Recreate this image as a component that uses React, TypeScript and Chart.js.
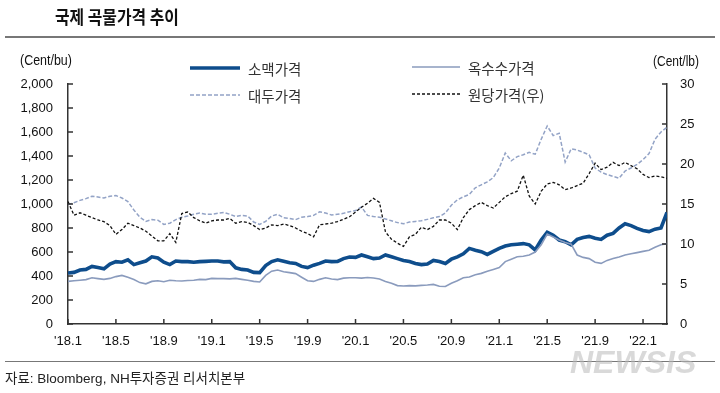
import React, { useEffect, useRef } from 'react';
import { Chart, registerables } from 'chart.js';

Chart.register(...registerables);

// Tick labels for the x axis (every 4 months starting Jan 2018)
const X_TICK_LABELS = ["'18.1", "'18.5", "'18.9", "'19.1", "'19.5", "'19.9", "'20.1", "'20.5", "'20.9", "'21.1", "'21.5", "'21.9", "'22.1"];

// Semi-monthly observations, Jan 2018 .. Mar 2022 (101 points)
// 소맥가격 (Cent/bu)
const WHEAT = [
  425, 430, 450, 455, 480, 470, 460, 500, 520, 515,
  535, 495, 510, 525, 560, 550, 515, 495, 525, 520,
  520, 515, 520, 522, 525, 525, 518, 520, 468, 455,
  450, 430, 428, 487, 520, 535, 522, 510, 505, 480,
  470, 490, 505, 525, 520, 522, 545, 558, 555, 575,
  560, 545, 550, 575, 560, 545, 530, 520, 505, 495,
  500, 530, 520, 505, 540, 560, 585, 630, 615, 603,
  580, 605, 630, 650, 660, 665, 670, 660, 617, 700,
  765, 740, 700, 686, 660, 705, 720, 730, 715, 705,
  740, 755, 800, 835, 820, 797, 780, 770, 790, 800,
  930,
];
// 옥수수가격 (Cent/bu)
const CORN = [
  355, 360, 365, 370, 385, 378, 372, 380, 395, 405,
  390, 370, 345, 335, 355, 360, 352, 365, 360, 358,
  362, 365, 372, 370, 380, 378, 378, 376, 380, 372,
  365, 355, 350, 405, 440, 450, 436, 428, 420, 390,
  360, 355, 372, 385, 375, 370, 382, 386, 385, 382,
  388, 383, 375, 355, 340, 320, 317, 320, 318, 322,
  325, 330, 315, 312, 340, 360, 385, 392, 410, 422,
  440, 455, 470, 520, 540, 560, 565, 575, 600, 660,
  750, 725, 700, 680, 665, 575, 555, 545, 515, 505,
  530, 545, 558, 575, 585, 595, 605, 615, 640, 660,
  670,
];
// 대두가격 (Cent/bu)
const SOYBEAN = [
  995, 1010, 1030, 1045, 1065, 1058, 1050, 1065, 1070, 1050,
  1020, 950, 890, 855, 870, 865, 830, 840, 870, 890,
  900, 915, 925, 915, 915, 922, 930, 915, 895, 905,
  900, 850, 830, 855, 900, 915, 885, 880, 870, 890,
  895, 905, 935, 925, 908, 915, 922, 936, 945, 975,
  905, 895, 890, 875, 860, 845, 835, 850, 855, 860,
  872, 885, 895, 925, 990, 1035, 1060, 1080, 1135, 1160,
  1185, 1220, 1300, 1425, 1360, 1395, 1410, 1430, 1415, 1540,
  1650, 1570, 1590, 1350, 1460, 1450, 1430, 1410, 1300, 1265,
  1245, 1230, 1215, 1275, 1300, 1330, 1370, 1420, 1540, 1600,
  1640,
];
// 원당가격(우) (Cent/lb)
const SUGAR = [
  15.3, 13.6, 13.9, 13.6, 13.3, 13.0, 12.8, 12.3, 11.2, 11.8,
  12.6, 12.3, 12.0, 11.6, 11.0, 10.4, 10.4, 11.3, 10.2, 13.8,
  14.0, 13.3, 12.9, 12.6, 12.9, 13.0, 13.0, 13.2, 12.6, 12.8,
  12.7, 12.3, 11.8, 12.0, 12.4, 12.3, 12.5, 12.3, 12.0, 11.6,
  11.3, 10.9, 12.4, 12.5, 12.6, 12.8, 13.1, 13.4, 14.0, 14.6,
  15.1, 15.7, 15.2, 11.5, 10.6, 10.1, 9.7, 10.9, 11.2, 12.1,
  11.8, 12.2, 13.0, 13.0, 12.6, 11.8, 13.3, 14.3, 14.8, 15.2,
  14.8, 14.5, 15.2, 15.9, 16.3, 16.6, 18.6, 16.0, 15.0, 16.6,
  17.5, 17.7, 17.4, 16.8, 17.0, 17.3, 17.6, 18.8, 20.1, 19.3,
  19.6, 20.2, 19.8, 20.2, 19.8, 19.4, 18.7, 18.3, 18.5, 18.4,
  18.2,
];

// x position of each observation, in months since Jan 2018
const MONTH_POS = WHEAT.map((_, i) => i / 2);

const SANS = "'Liberation Sans', Arial, sans-serif";
const KR = "'Noto Sans CJK KR', 'Noto Sans', sans-serif";

const C_WHEAT = '#0e4d8c';
const C_CORN = '#8a9bbd';
const C_SOY = '#93a3c6';
const C_SUGAR = '#111111';

const toPts = (arr: number[]) => arr.map((v, i) => ({ x: MONTH_POS[i], y: v }));

const insideTicks = {
  id: 'insideTicks',
  afterDraw(chart: any) {
    const ctx = chart.ctx;
    const area = chart.chartArea;
    const sx = chart.scales.x;
    const sy = chart.scales.y;
    const sy2 = chart.scales.y2;
    ctx.save();
    ctx.strokeStyle = '#333';
    ctx.lineWidth = 1.5;
    ctx.beginPath();
    sx.ticks.forEach((_: any, i: number) => {
      const px = sx.getPixelForTick(i);
      ctx.moveTo(px, area.bottom);
      ctx.lineTo(px, area.bottom - 5);
    });
    sy.ticks.forEach((_: any, i: number) => {
      const py = sy.getPixelForTick(i);
      ctx.moveTo(area.left, py);
      ctx.lineTo(area.left + 5, py);
    });
    sy2.ticks.forEach((_: any, i: number) => {
      const py = sy2.getPixelForTick(i);
      ctx.moveTo(area.right, py);
      ctx.lineTo(area.right - 5, py);
    });
    ctx.stroke();
    ctx.restore();
  },
};

function Txt(props: { left: number; cy: number; size: number; family: string; weight?: number; sx?: number; color?: string; children: any; italic?: boolean }) {
  const lh = Math.round(props.size * 1.3);
  return (
    <div
      style={{
        position: 'absolute',
        left: props.left,
        top: props.cy - lh / 2,
        fontSize: props.size,
        lineHeight: lh + 'px',
        fontFamily: props.family,
        fontWeight: props.weight ?? 400,
        fontStyle: props.italic ? 'italic' : 'normal',
        color: props.color ?? '#222',
        whiteSpace: 'nowrap',
        transform: props.sx ? `scaleX(${props.sx})` : undefined,
        transformOrigin: 'left center',
      }}
    >
      {props.children}
    </div>
  );
}

export default function App() {
  const canvasRef = useRef<HTMLCanvasElement | null>(null);

  useEffect(() => {
    if (!canvasRef.current) return;
    const tickFont = { family: SANS, size: 13 };
    const chart = new Chart(canvasRef.current, {
      type: 'line',
      data: {
        datasets: [
          { label: '원당가격(우)', data: toPts(SUGAR), yAxisID: 'y2', borderColor: C_SUGAR, borderWidth: 1.3, borderDash: [3, 2], order: 0 },
          { label: '옥수수가격', data: toPts(CORN), yAxisID: 'y', borderColor: C_CORN, borderWidth: 1.6, order: 1 },
          { label: '소맥가격', data: toPts(WHEAT), yAxisID: 'y', borderColor: C_WHEAT, borderWidth: 3.6, order: 2 },
          { label: '대두가격', data: toPts(SOYBEAN), yAxisID: 'y', borderColor: C_SOY, borderWidth: 1.5, borderDash: [4, 2], order: 3 },
        ] as any,
      },
      options: {
        animation: false,
        responsive: true,
        maintainAspectRatio: false,
        elements: { point: { radius: 0 }, line: { tension: 0 } },
        layout: { padding: { top: 84, left: 0, right: 0, bottom: 0 } },
        plugins: { legend: { display: false }, tooltip: { enabled: false } },
        scales: {
          x: {
            type: 'linear',
            min: 0,
            max: 50,
            afterFit: (s: any) => { s.height = 69; },
            grid: { display: true, drawOnChartArea: false, drawTicks: false },
            border: { display: true, color: '#333', width: 1.5 },
            ticks: {
              stepSize: 4,
              autoSkip: false,
              maxRotation: 0,
              includeBounds: false,
              padding: 10,
              color: '#111',
              font: tickFont,
              callback: (v: any) => X_TICK_LABELS[Math.round(Number(v) / 4)] ?? '',
            },
          },
          y: {
            position: 'left',
            min: 0,
            max: 2000,
            afterFit: (s: any) => { s.width = 68; },
            grid: { display: true, drawOnChartArea: false, drawTicks: false },
            border: { display: true, color: '#333', width: 1.5 },
            ticks: {
              stepSize: 200,
              padding: 15,
              color: '#111',
              font: tickFont,
              callback: (v: any) => Number(v).toLocaleString('en-US'),
            },
          },
          y2: {
            position: 'right',
            min: 0,
            max: 30,
            afterFit: (s: any) => { s.width = 53; },
            grid: { display: true, drawOnChartArea: false, drawTicks: false },
            border: { display: true, color: '#333', width: 1.5 },
            ticks: {
              stepSize: 5,
              padding: 13,
              color: '#111',
              font: tickFont,
            },
          },
        },
      } as any,
      plugins: [insideTicks],
    });
    return () => chart.destroy();
  }, []);

  return (
    <div style={{ position: 'absolute', left: 0, top: 0, width: 720, height: 393, background: '#fff', overflow: 'hidden' }}>
      <div style={{ position: 'absolute', left: 0, top: 0, width: 720, height: 393 }}>
        <canvas ref={canvasRef} />
      </div>

      {/* Title and rules */}
      <Txt left={55} cy={16.5} size={18} family={KR} weight={700} sx={0.88} color="#111">국제 곡물가격 추이</Txt>
      <div style={{ position: 'absolute', left: 5, top: 36, width: 710, height: 1.5, background: '#777' }} />
      <div style={{ position: 'absolute', left: 5, top: 360.5, width: 710, height: 1.5, background: '#777' }} />

      {/* Axis titles */}
      <Txt left={20} cy={60} size={15} family={SANS} sx={0.83} color="#111">(Cent/bu)</Txt>
      <Txt left={653} cy={61} size={15} family={SANS} sx={0.8} color="#111">(Cent/lb)</Txt>

      {/* Legend */}
      <svg width={720} height={393} style={{ position: 'absolute', left: 0, top: 0, pointerEvents: 'none' }}>
        <line x1={190} y1={68} x2={240} y2={68} stroke={C_WHEAT} strokeWidth={3.5} />
        <line x1={190} y1={95} x2={240} y2={95} stroke={C_SOY} strokeWidth={1.5} strokeDasharray="4 2" />
        <line x1={412} y1={67} x2={460} y2={67} stroke={C_CORN} strokeWidth={1.5} />
        <line x1={412} y1={94} x2={460} y2={94} stroke={C_SUGAR} strokeWidth={1.5} strokeDasharray="3 2" />
      </svg>
      <Txt left={248} cy={68} size={14.5} family={KR} color="#333">소맥가격</Txt>
      <Txt left={248} cy={95} size={14.5} family={KR} color="#333">대두가격</Txt>
      <Txt left={468} cy={67} size={14.5} family={KR} color="#333">옥수수가격</Txt>
      <Txt left={468} cy={94} size={14.5} family={KR} color="#333">원당가격(우)</Txt>

      {/* Footer */}
      <Txt left={5} cy={379} size={13.5} family={`'Liberation Sans', ${KR}`} color="#222">자료: Bloomberg, NH투자증권 리서치본부</Txt>

      {/* Watermark */}
      <Txt left={570} cy={362} size={32} family="'Liberation Sans', sans-serif" weight={700} italic color="rgba(185,185,185,0.55)">NEWSIS</Txt>
    </div>
  );
}
